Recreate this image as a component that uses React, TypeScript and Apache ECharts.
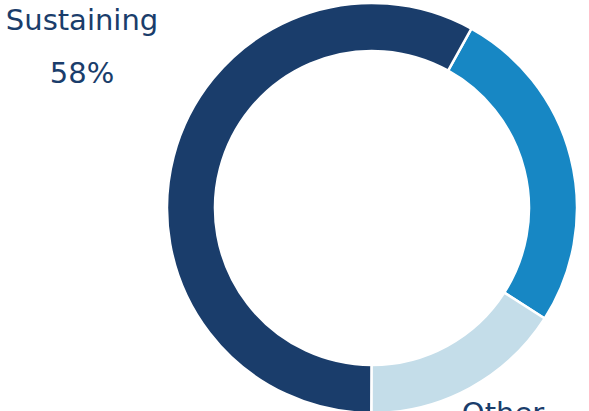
import React, { useEffect, useRef } from "react";
import * as echarts from "echarts";

const categories = ["New", "Other", "Sustaining"];
const values = [26, 16, 58];
const colors = ["#1787c4", "#c4dde9", "#1a3d6b"];
const labelShown = [false, true, true];
const labelSpots: [number, number][] = [[900, 200], [503, 439], [82, 46]];

export default function App() {
  const ref = useRef<HTMLDivElement>(null);
  useEffect(() => {
    if (!ref.current) return;
    const chart = echarts.init(ref.current, null, { renderer: "svg" });
    chart.setOption({
      animation: false,
      backgroundColor: "#ffffff",
      series: [
        {
          type: "pie",
          center: [372, 208],
          radius: [157, 205],
          startAngle: 61,
          clockwise: true,
          avoidLabelOverlap: false,
          itemStyle: { borderColor: "#ffffff", borderWidth: 2.5 },
          label: {
            show: true,
            formatter: "{b}\n{c}%",
            color: "#1a3d6b",
            fontFamily: "DejaVu Sans",
            fontSize: 29,
            lineHeight: 53,
            align: "center",
            verticalAlign: "middle",
          },
          labelLine: { show: false },
          labelLayout: (p: any) => ({
            x: labelSpots[p.dataIndex][0],
            y: labelSpots[p.dataIndex][1],
            align: "center",
            verticalAlign: "middle",
          }),
          data: categories.map((c, i) => ({
            name: c,
            value: values[i],
            itemStyle: { color: colors[i] },
            label: { show: labelShown[i] },
          })),
        },
      ],
    });
    return () => chart.dispose();
  }, []);
  return (
    <div
      ref={ref}
      style={{ position: "fixed", left: 0, top: 0, width: 589, height: 411 }}
    />
  );
}
